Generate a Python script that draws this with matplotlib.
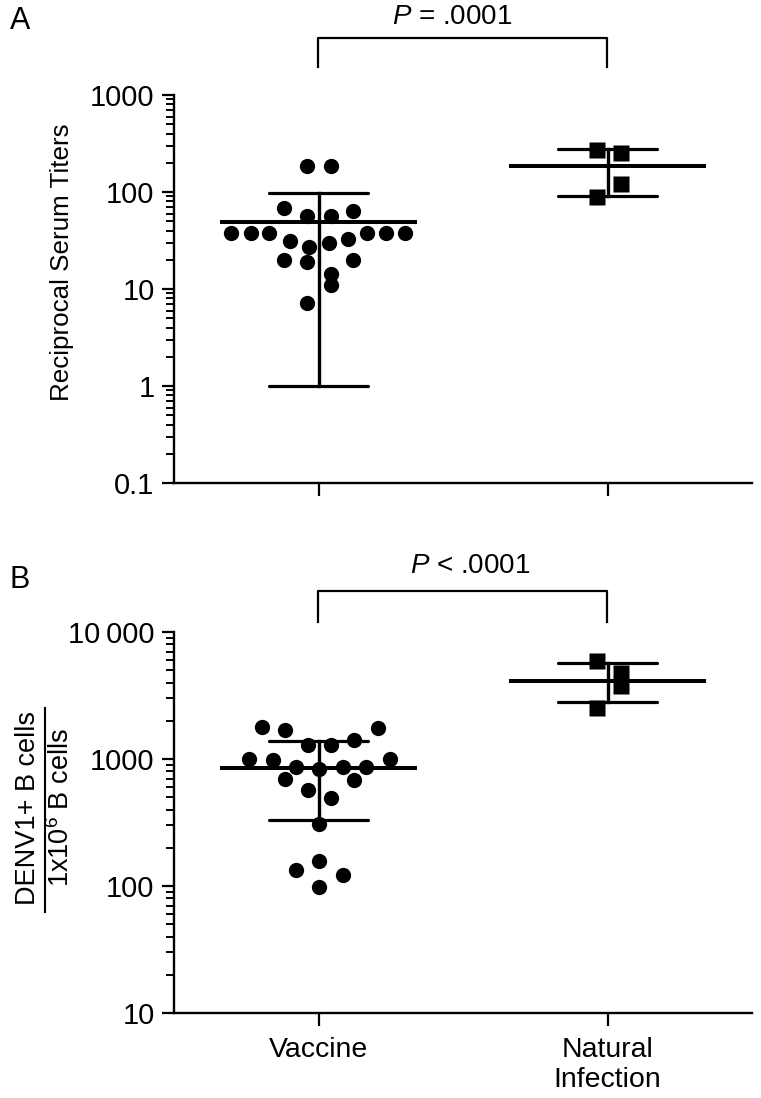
import numpy as np
import matplotlib
matplotlib.use("Agg")
import matplotlib.pyplot as plt
from matplotlib.lines import Line2D
from matplotlib.ticker import LogLocator, NullFormatter

plt.rcParams['font.family'] = ['Liberation Sans', 'DejaVu Sans']
plt.rcParams['mathtext.fontset'] = 'custom'
plt.rcParams['mathtext.rm'] = 'Liberation Sans'
plt.rcParams['mathtext.it'] = 'Liberation Sans:italic'

# ---- data ----
groups = ["Vaccine", "Natural\nInfection"]

# panel A: reciprocal serum titers
titer_vac = [187, 187, 68, 56, 56, 64, 38, 38, 38, 38, 38, 38,
             31, 30, 33, 27, 20, 19, 20, 14.3, 11, 7.1]
titer_vac_dx = [-0.039, 0.042, -0.12, -0.039, 0.042, 0.121,
                -0.302, -0.235, -0.170, 0.169, 0.234, 0.301,
                -0.100, 0.035, 0.101, -0.034, -0.12, -0.039, 0.121,
                0.042, 0.042, -0.039]
titer_nat = [271, 254, 120, 89]
titer_nat_dx = [-0.036, 0.045, 0.045, -0.036]
titer_mean = [49, 185]
titer_hi = [97, 275]
titer_lo = [1.0, 92]

# panel B: DENV1+ B cells per 1e6 B cells
bcell_vac = [1780, 1690, 1770, 1280, 1280, 1400, 1005, 980, 1005,
             860, 830, 860, 870, 696, 684, 570, 491, 308, 158, 134, 122, 99]
bcell_vac_dx = [-0.196, -0.117, 0.205, -0.037, 0.044, 0.122, -0.239, -0.158,
                0.246, -0.077, 0.003, 0.084, 0.165, -0.117, 0.122, -0.037,
                0.044, 0.0, 0.0, -0.077, 0.084, 0.0]
bcell_nat = [5910, 4750, 3760, 2520]
bcell_nat_dx = [-0.036, 0.045, 0.045, -0.036]
bcell_mean = [845, 4110]
bcell_hi = [1390, 5700]
bcell_lo = [331, 2810]

ticks_a = [0.1, 1, 10, 100, 1000]
ticklabels_a = ["0.1", "1", "10", "100", "1000"]
ticks_b = [10, 100, 1000, 10000]
ticklabels_b = ["10", "100", "1000", "10\u2009000"]

p_a = "$\\it{P}$ = .0001"
p_b = "$\\it{P}$ < .0001"


def draw_panel(ax, vac, vac_dx, nat, nat_dx, mean, hi, lo, ylim, ticks, labels):
    for i in range(2):
        ax.plot([i - 0.335, i + 0.335], [mean[i], mean[i]], color='black', lw=2.9, zorder=2)
        ax.plot([i, i], [lo[i], hi[i]], color='black', lw=2.4, zorder=2)
        for v in (lo[i], hi[i]):
            ax.plot([i - 0.17, i + 0.17], [v, v], color='black', lw=2.3,
                    solid_capstyle='round', zorder=2)
    ax.plot(np.array(vac_dx), vac, 'o', color='black', ms=11, mec='none', zorder=3)
    ax.plot(1 + np.array(nat_dx), nat, 's', color='black', ms=11, mec='none', zorder=3)

    ax.set_yscale('log')
    ax.set_ylim(*ylim)
    ax.set_xlim(-0.5, 1.5)
    ax.set_yticks(ticks)
    ax.set_yticklabels(labels)
    ax.yaxis.set_minor_locator(LogLocator(base=10, subs=np.arange(2, 10)))
    ax.yaxis.set_minor_formatter(NullFormatter())
    ax.set_xticks([0, 1])
    for s in ('top', 'right'):
        ax.spines[s].set_visible(False)
    for s in ('left', 'bottom'):
        ax.spines[s].set_linewidth(1.7)
    ax.tick_params(axis='both', which='major', direction='out', length=9,
                   width=1.6, labelsize=21, pad=5)
    ax.tick_params(axis='y', which='minor', direction='out', length=5.5, width=1.4)


def bracket(fig, x0, x1, ytop, ybot, text, xtext, ytext):
    fig.add_artist(Line2D([x0, x0, x1, x1], [ybot, ytop, ytop, ybot],
                          color='black', lw=1.6, transform=fig.transFigure))
    fig.text(xtext, ytext, text, ha='center', va='center', fontsize=20)


W, H = 761, 1098
fig = plt.figure(figsize=(W / 100, H / 100), dpi=100)

axA = fig.add_axes([174 / W, 1 - 483 / H, 578 / W, 388 / H])
draw_panel(axA, titer_vac, titer_vac_dx, titer_nat, titer_nat_dx,
           titer_mean, titer_hi, titer_lo, (0.1, 1000), ticks_a, ticklabels_a)
axA.set_xticklabels(["", ""])

axB = fig.add_axes([174 / W, 1 - 1013 / H, 578 / W, 381 / H])
draw_panel(axB, bcell_vac, bcell_vac_dx, bcell_nat, bcell_nat_dx,
           bcell_mean, bcell_hi, bcell_lo, (10, 10000), ticks_b, ticklabels_b)
axB.set_xticklabels(groups, fontsize=20.5, linespacing=1.2)
axB.tick_params(axis='x', pad=8)

# panel letters
fig.text(10 / W, 1 - 21 / H, "A", fontsize=22, ha='left', va='center')
fig.text(10 / W, 1 - 580 / H, "B", fontsize=22, ha='left', va='center')

# y labels
fig.text(62 / W, 1 - 262 / H, "Reciprocal Serum Titers", rotation=90,
         ha='center', va='center', fontsize=18.7)
fig.text(28 / W, 1 - 808 / H, "DENV1+ B cells", rotation=90,
         ha='center', va='center', fontsize=19.5)
fig.text(61 / W, 1 - 808 / H, "1x10$^6$ B cells", rotation=90,
         ha='center', va='center', fontsize=19.5)
fig.add_artist(Line2D([45 / W, 45 / W], [1 - 708 / H, 1 - 912 / H],
                      color='black', lw=1.5, transform=fig.transFigure))

# significance brackets
bracket(fig, 318 / W, 607 / W, 1 - 38 / H, 1 - 67 / H, p_a, 452 / W, 1 - 17 / H)
bracket(fig, 318 / W, 607 / W, 1 - 591 / H, 1 - 622 / H, p_b, 470 / W, 1 - 566 / H)

fig.savefig("out.png", dpi=100)
